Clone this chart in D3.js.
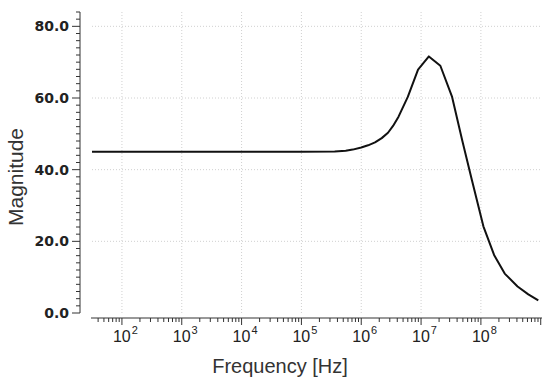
<!DOCTYPE html>
<html>
<head>
<meta charset="utf-8">
<script src="https://cdn.jsdelivr.net/npm/d3@7"></script>
<style>
  body { margin: 0; background: #fff; }
  svg { display: block; }
</style>
</head>
<body>
<svg width="550" height="385"></svg>
<script>
// frequency response
const freqs = [31.6, 100, 1e3, 1e4, 1e5, 3.6e5, 5.5e5, 7.2e5, 1.0e6, 1.3e6, 1.7e6, 2.2e6, 2.8e6,
  3.4e6, 4.2e6, 6.0e6, 8.9e6, 1.35e7, 2.1e7, 3.3e7, 4.9e7, 7.1e7, 1.1e8, 1.66e8, 2.5e8,
  4.1e8, 6.2e8, 9.1e8];
const magnitude = [45.0, 45.0, 45.0, 45.0, 45.0, 45.1, 45.3, 45.6, 46.2, 46.8, 47.6, 48.8, 50.3,
  52.2, 54.8, 60.3, 67.9, 71.6, 69.0, 60.3, 48.0, 37.0, 24.2, 16.2, 11.0,
  7.4, 5.2, 3.5];

const yTicks = [0, 20, 40, 60, 80];
const decades = [2, 3, 4, 5, 6, 7, 8];

const svg = d3.select("svg");

const x = d3.scaleLog().domain([31.6, 1.05e9]).range([92, 542]);
const y = d3.scaleLinear().domain([0, 84]).range([313, 12]);

const axisColor = "#333";

// grid
let grid = svg.append("g");
decades.forEach((d) => {
  grid.append("line")
    .attr("x1", x(Math.pow(10, d))).attr("x2", x(Math.pow(10, d)))
    .attr("y1", y(84)).attr("y2", y(0))
    .attr("stroke", "#d0d0d0")
    .attr("stroke-dasharray", "1,2");
});
yTicks.slice(1).forEach((v) => {
  grid.append("line")
    .attr("x1", 92).attr("x2", 542)
    .attr("y1", y(v)).attr("y2", y(v))
    .attr("stroke", "#d0d0d0")
    .attr("stroke-dasharray", "1,2");
});

// y axis (ticks to the left)
let yAxis = svg.append("g").attr("transform", "translate(80,0)");
yAxis.append("line")
  .attr("x1", 0).attr("x2", 0)
  .attr("y1", y(84)).attr("y2", y(0))
  .attr("stroke", axisColor);
d3.range(0, 85, 2).forEach((v) => {
  let major = v % 20 === 0;
  yAxis.append("line")
    .attr("x1", major ? -8 : -4).attr("x2", 0)
    .attr("y1", y(v)).attr("y2", y(v))
    .attr("stroke", axisColor);
});
yTicks.forEach((v) => {
  yAxis.append("text")
    .attr("x", -11)
    .attr("y", y(v) + 5)
    .attr("text-anchor", "end")
    .attr("font-family", "DejaVu Sans, Verdana, sans-serif")
    .attr("font-size", "14px")
    .attr("font-weight", "700")
    .attr("fill", "#222")
    .text(v.toFixed(1));
});

// x axis (detached, ticks downward)
let xAxis = svg.append("g").attr("transform", "translate(0,318)");
xAxis.append("line")
  .attr("x1", 91).attr("x2", 542)
  .attr("y1", 0).attr("y2", 0)
  .attr("stroke", axisColor);
x.ticks().forEach((t) => {
  let mant = Math.round(t / Math.pow(10, Math.floor(Math.log10(t) + 1e-9)));
  let major = mant === 1;
  xAxis.append("line")
    .attr("x1", x(t)).attr("x2", x(t))
    .attr("y1", 0).attr("y2", major ? 7 : 4)
    .attr("stroke", axisColor);
});
decades.forEach((d) => {
  let label = xAxis.append("text")
    .attr("x", x(Math.pow(10, d)) - 9)
    .attr("y", 24)
    .attr("font-family", "Liberation Sans, Arial, sans-serif")
    .attr("font-size", "16px")
    .attr("fill", "#222");
  label.append("tspan").text("10");
  label.append("tspan")
    .attr("dx", 1)
    .attr("dy", -8)
    .attr("font-size", "11px")
    .text(d);
});

// titles
svg.append("text")
  .attr("x", 280)
  .attr("y", 373)
  .attr("text-anchor", "middle")
  .attr("font-family", "Liberation Sans, Arial, sans-serif")
  .attr("font-size", "20px")
  .attr("fill", "#333")
  .text("Frequency [Hz]");

svg.append("text")
  .attr("transform", "translate(23,177) rotate(-90)")
  .attr("text-anchor", "middle")
  .attr("font-family", "Liberation Sans, Arial, sans-serif")
  .attr("font-size", "21px")
  .attr("fill", "#333")
  .text("Magnitude");

// response curve
const line = d3.line()
  .x((d, i) => x(freqs[i]))
  .y((d) => y(d));

svg.append("path")
  .datum(magnitude)
  .attr("d", line)
  .attr("fill", "none")
  .attr("stroke", "#111")
  .attr("stroke-width", 2)
  .attr("stroke-linejoin", "round");
</script>
</body>
</html>
